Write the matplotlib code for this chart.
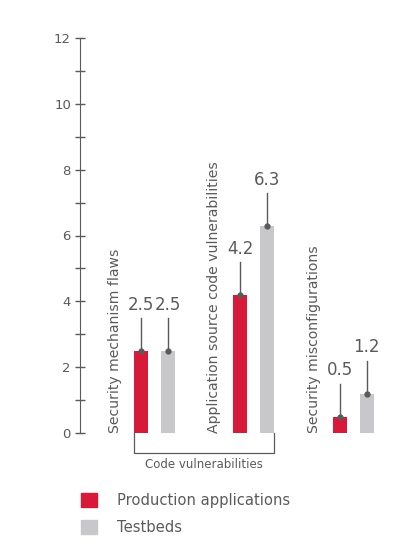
import matplotlib.pyplot as plt
from matplotlib.patches import Patch

categories = ["Security mechanism flaws",
              "Application source code vulnerabilities",
              "Security misconfigurations"]
production = [2.5, 4.2, 0.5]
testbeds = [2.5, 6.3, 1.2]
series_names = ["Production applications", "Testbeds"]
bracket_label = "Code vulnerabilities"

red = "#d7193a"
grey = "#c8c8ca"
dark = "#5a5a5a"

plt.rcParams['font.family'] = ['DejaVu Sans']

fig = plt.figure(figsize=(4.2, 5.51), dpi=100)
ax = fig.add_axes([80 / 420, 118 / 551, 320 / 420, 395 / 551])

x = list(range(len(categories)))
off = 0.135
w = 0.14
xp = [i - off for i in x]
xt = [i + off for i in x]
ax.bar(xp, production, width=w, color=red)
ax.bar(xt, testbeds, width=w, color=grey)

# callout lines + value labels
for xs, vals in ((xp, production), (xt, testbeds)):
    for xi, v in zip(xs, vals):
        ax.plot([xi, xi], [v, v + 0.98], color=dark, lw=1, clip_on=False)
        ax.plot(xi, v, 'o', color=dark, ms=3.5, clip_on=False)
        ax.text(xi, v + 1.4, f"{v:.1f}", ha='center', va='center',
                fontsize=12, color=dark)

# rotated category labels
for i, c in enumerate(categories):
    ax.text(i - 0.40, 0, c, rotation=90, ha='center', va='bottom',
            fontsize=10.1, color=dark)

# bracket under the code vulnerability groups
bl = xp[0] - w / 2
br = xt[1] + w / 2
ax.plot([bl, bl, br, br], [0, -0.61, -0.61, 0], color=dark, lw=0.9,
        clip_on=False)
ax.text((bl + br) / 2, -0.97, bracket_label, ha='center', va='center',
        fontsize=8.5, color=dark)

ax.set_xlim(-0.749, 2.47)
ax.set_ylim(0, 12)
ax.set_yticks(range(0, 13, 2))
ax.set_yticks(range(1, 12, 2), minor=True)
ax.tick_params(axis='y', which='both', direction='inout', length=7,
               width=1, color=dark, labelcolor=dark, labelsize=9.5, pad=3)
ax.set_xticks([])
for s in ('top', 'right', 'bottom'):
    ax.spines[s].set_visible(False)
ax.spines['left'].set_color(dark)

handles = [Patch(color=red), Patch(color=grey)]
fig.legend(handles, series_names, loc='upper left',
           bbox_to_anchor=(68 / 420, 1 - 480 / 551), frameon=False,
           handlelength=1.1, handleheight=1.1, handletextpad=1.3,
           labelspacing=0.8, fontsize=10.6, labelcolor=dark)

fig.savefig("out.png", dpi=100)
